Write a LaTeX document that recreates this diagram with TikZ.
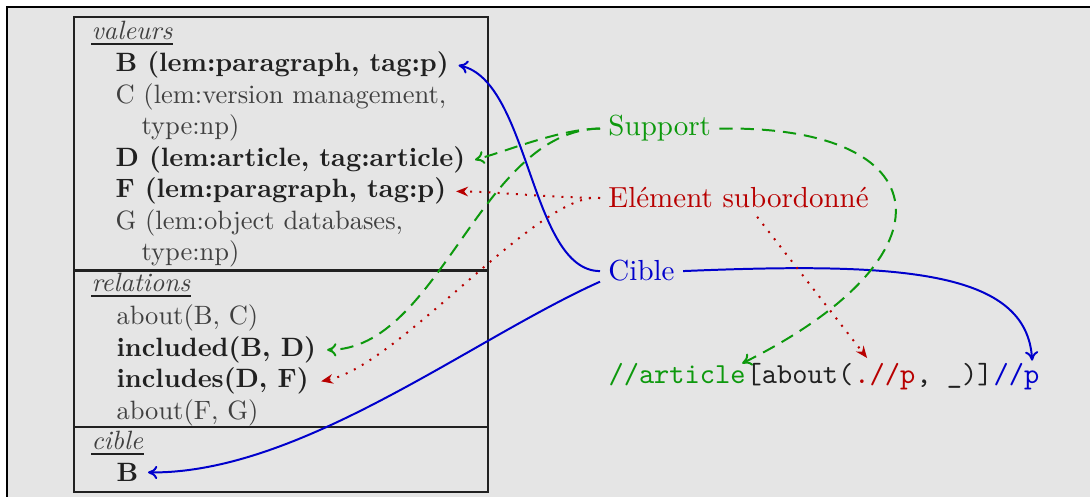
\documentclass[tikz,border=0pt]{standalone}
\usepackage{fontspec}
\usetikzlibrary{arrows.meta}
\definecolor{bg}{gray}{0.9}
\definecolor{cgreen}{rgb}{0.05,0.6,0.05}
\definecolor{cred}{rgb}{0.72,0.0,0.0}
\definecolor{cblue}{rgb}{0,0,0.8}
\definecolor{txt}{gray}{0.25}
\definecolor{txtb}{gray}{0.13}
\definecolor{boxc}{gray}{0.13}
\begin{document}
\begin{tikzpicture}[x=0.3774pt,y=-0.3774pt,
  lefttext/.style={anchor=base west, inner sep=0pt, font=\fontsize{10}{12}\selectfont, text=txt},
  boldtext/.style={anchor=base west, inner sep=0pt, font=\fontsize{10}{12}\selectfont\bfseries, text=txtb},
  header/.style={anchor=base west, inner sep=0pt, font=\fontsize{10}{12}\selectfont\itshape, text=txt},
  uline/.style={line width=0.9pt, txtb},
  rlabel/.style={anchor=base west, inner sep=3pt, font=\fontsize{10.95}{13.6}\selectfont},
  codetext/.style={anchor=base west, inner sep=0pt, font=\fontsize{10.95}{13.6}\selectfont\ttfamily},
  boxline/.style={line width=0.85pt, boxc},
  bluearrow/.style={cblue, line width=0.75pt, -{To[length=3.5pt,width=5pt]}},
  greenarrow/.style={cgreen, line width=0.75pt, dash pattern=on 5pt off 3pt, -{To[length=3.5pt,width=5pt]}},
  redarrow/.style={cred, line width=0.75pt, dash pattern=on 0.75pt off 2.7pt, -{Stealth[length=4.5pt,width=3.6pt]}}
]
\useasboundingbox (0,0) rectangle (1090,497);
\fill[bg] (7,7) rectangle (1090,497);
\draw[line width=0.5pt] (7,497) -- (7,7) -- (1090,7);

% left box
\draw[boxline] (74,17) rectangle (488,492);
\draw[boxline] (74,270.5) -- (488,270.5);
\draw[boxline] (74,427) -- (488,427);

\node[header] (v0) at (91,40) {valeurs};
\draw[uline] ([yshift=-1.4pt]v0.base west) -- ([yshift=-1.4pt]v0.base east);
\node[boldtext] (vB) at (115,72) {B (lem:paragraph, tag:p)};
\node[lefttext] (vC) at (115,103.5) {C (lem:version management,};
\node[lefttext] (vC2) at (141,135) {type:np)};
\node[boldtext] (vD) at (115,166.5) {D (lem:article, tag:article)};
\node[boldtext] (vF) at (115,198) {F (lem:paragraph, tag:p)};
\node[lefttext] (vG) at (115,229.5) {G (lem:object databases,};
\node[lefttext] (vG2) at (141,261) {type:np)};

\node[header] (r0) at (91,292) {relations};
\draw[uline] ([yshift=-1.4pt]r0.base west) -- ([yshift=-1.4pt]r0.base east);
\node[lefttext] (rBC) at (116,325) {about(B, C)};
\node[boldtext] (rBD) at (116,356.5) {included(B, D)};
\node[boldtext] (rDF) at (116,388) {includes(D, F)};
\node[lefttext] (rFG) at (116,420) {about(F, G)};

\node[header] (c0) at (91,450) {cible};
\draw[uline] ([yshift=-1.4pt]c0.base west) -- ([yshift=-1.4pt]c0.base east);
\node[boldtext] (cB) at (116,481.5) {B};

% right labels
\node[rlabel, text=cgreen] (support) at (600,136) {Support};
\node[rlabel, text=cred] (elem) at (600,208) {Elément subordonné};
\node[rlabel, text=cblue] (cible) at (600,281) {Cible};

% code line
\node[codetext, text=cgreen] (k1) at (608,384) {//article};
\node[codetext, text=txtb] (k2) at (k1.base east) {[about(};
\node[codetext, text=cred] (k3) at (k2.base east) {.//p};
\node[codetext, text=txtb] (k4) at (k3.base east) {,\ \_)]};
\node[codetext, text=cblue] (k5) at (k4.base east) {//p};

% blue connectors
\draw[bluearrow] (cible.west) .. controls (530,271) and (530,80) .. ([xshift=3.5pt]vB.east);
\draw[bluearrow] ([yshift=-4pt]cible.west) .. controls (470,340) and (300,474) .. ([xshift=3.5pt]cB.east);
\draw[bluearrow] (cible.east) .. controls (900,262) and (1027,270) .. ([xshift=-2.9pt,yshift=1pt]k5.north east);

% green connectors
\draw[greenarrow] (support.west) .. controls (560,129) and (510,150) .. ([xshift=3.5pt]vD.east);
\draw[greenarrow] (support.west) .. controls (480,130) and (440,350) .. ([xshift=4pt]rBD.east);
\draw[greenarrow] (support.east) .. controls (940,125) and (960,255) .. ([xshift=-1.5pt]k1.north east);

% red connectors
\draw[redarrow] (elem.west) .. controls (540,197) and (500,192) .. ([xshift=3.5pt]vF.east);
\draw[redarrow] (elem.west) .. controls (540,190) and (400,365) .. ([xshift=4.5pt]rDF.east);
\draw[redarrow] ([xshift=7pt]elem.south) -- ([xshift=5pt,yshift=2pt]k3.north west);
\end{tikzpicture}
\end{document}
